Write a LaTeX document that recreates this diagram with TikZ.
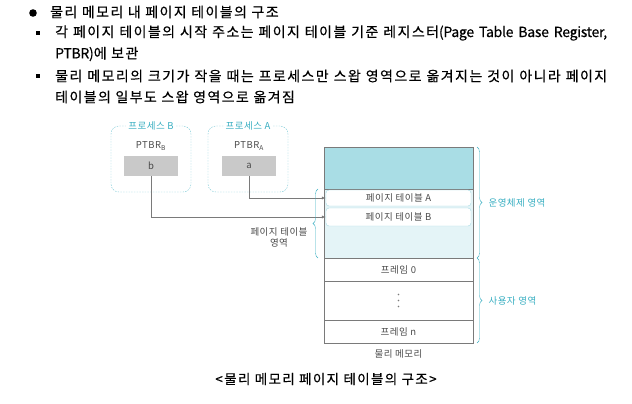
\documentclass[tikz,border=0pt]{standalone}
\usepackage{fontspec}
\setmainfont{Noto Sans CJK KR}[LetterSpace=5]
\newfontfamily\headfont{Noto Sans CJK KR}[LetterSpace=10, FakeBold=0.4]
\newfontfamily\latinfont{Noto Sans CJK KR}[LetterSpace=-2, FakeBold=0.4]
\usetikzlibrary{positioning, arrows.meta, decorations.pathreplacing}
\definecolor{tealtxt}{HTML}{3AAFC2}
\definecolor{osdark}{HTML}{A9DDE5}
\definecolor{oslight}{HTML}{E4F4F7}
\definecolor{reggray}{HTML}{C9C9C9}
\definecolor{linegray}{HTML}{7A7A7A}
\definecolor{txtgray}{HTML}{4A4A4A}
\tikzset{
  headtxt/.style={anchor=west, inner sep=0pt, font=\headfont\fontsize{14}{16}\selectfont},
  proc/.style={draw=tealtxt!70, dash pattern=on 1.5pt off 1.2pt, rounded corners=8pt,
    minimum width=80pt, minimum height=66pt},
  proclbl/.style={fill=white, text=tealtxt, inner sep=2pt},
  reg/.style={fill=reggray, minimum width=54pt, minimum height=20pt, inner sep=0pt, text=txtgray},
  memrow/.style={draw=linegray, minimum width=149pt, inner sep=0pt, outer sep=0pt, text=txtgray},
  ptbox/.style={draw=tealtxt!45, fill=white, rounded corners=3pt, minimum width=145pt,
    inner sep=0pt, text=txtgray},
  tbrace/.style={draw=tealtxt, decorate, decoration={brace, amplitude=5pt}},
  link/.style={draw=linegray, -{Latex[length=4pt, width=3pt]}}
}
\newcommand{\lat}[1]{{\latinfont\fontsize{14}{16}\selectfont #1}}
\begin{document}
\begin{tikzpicture}[x=1pt, y=-1pt, font=\fontsize{9.5}{11}\selectfont]
\useasboundingbox (0,0) rectangle (632,404);

% heading and notes
\fill (33,13) circle (3.8pt);
\node[headtxt] (h1) at (50,12) {물리 메모리 내 페이지 테이블의 구조};
\fill (35.5,31.5) rectangle (39.5,35.5);
\node[headtxt] (h2) at (55,33) {\makebox[552pt][s]{각 페이지 테이블의 시작 주소는 페이지 테이블 기준 레지스터\lat{(Page} \lat{Table} \lat{Base} \lat{Register,}}};
\node[headtxt] (h3) at (55,54) {\lat{PTBR)}에 보관};
\fill (35.5,74.5) rectangle (39.5,78.5);
\node[headtxt] (h4) at (55,76) {\makebox[552pt][s]{물리 메모리의 크기가 작을 때는 프로세스만 스왑 영역으로 옮겨지는 것이 아니라 페이지}};
\node[headtxt] (h5) at (55,97) {테이블의 일부도 스왑 영역으로 옮겨짐};

% processes
\node[proc] (procB) at (151,159) {};
\node[proc] (procA) at (248,159) {};
\node[proclbl] at (procB.north) {프로세스 B};
\node[proclbl] at (procA.north) {프로세스 A};
\node[text=txtgray] (ptbrB) at (151,146) {PTBR\textsubscript{B}};
\node[text=txtgray] (ptbrA) at (249,146) {PTBR\textsubscript{A}};
\node[reg] (b) at (151,166) {b};
\node[reg] (a) at (249,166) {a};

% physical memory
\node[memrow, fill=osdark, minimum height=42pt] (osTop) at (398.5,168) {};
\node[memrow, fill=oslight, minimum height=69pt, below=0pt of osTop] (osLow) {};
\node[ptbox, minimum height=16pt] (ptA) at (398.5,198) {페이지 테이블 A};
\node[ptbox, minimum height=18pt] (ptB) at (398.5,217) {페이지 테이블 B};
\node[memrow, minimum height=23pt, below=0pt of osLow] (f0) {프레임 0};
\node[memrow, minimum height=39pt, below=0pt of f0] (fdots) {};
\foreach \dy in {-6,0,6}
  \fill[linegray] ([yshift=\dy pt]fdots.center) circle (0.8pt);
\node[memrow, minimum height=23pt, below=0pt of fdots] (fN) {프레임 n};
\node[text=txtgray, below=3pt of fN] (memLbl) {물리 메모리};

\draw[link] (a.south) |- (ptA.west);
\draw[link] (b.south) |- (ptB.west);

% braces
\draw[tbrace] ([xshift=-6pt]osLow.south west) -- ([xshift=-6pt]osLow.north west)
  node[pos=0.3, left=7pt, align=center, text=txtgray] (ptArea) {페이지 테이블\\영역};
\draw[tbrace] ([xshift=4pt]osTop.north east) -- ([xshift=4pt]osLow.south east)
  node[midway, right=8pt, text=tealtxt] (osArea) {운영체제 영역};
\draw[tbrace] ([xshift=4pt]f0.north east) -- ([xshift=4pt]fN.south east)
  node[midway, right=8pt, text=tealtxt] (userArea) {사용자 영역};

\node[font=\headfont\fontsize{13.5}{15}\selectfont] (cap) at (326,379) {<물리 메모리 페이지 테이블의 구조>};
\end{tikzpicture}
\end{document}
